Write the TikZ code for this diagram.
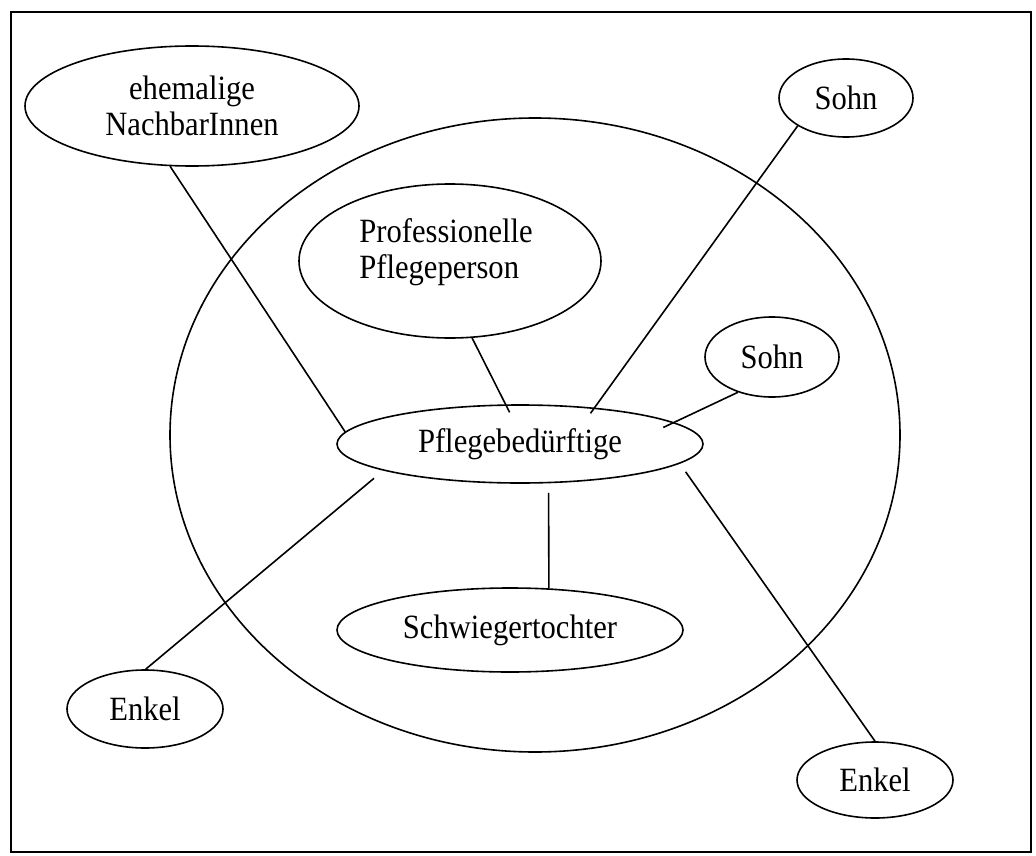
\documentclass[tikz,border=0pt]{standalone}
\usepackage{fontspec}
\setmainfont{Liberation Serif}[FakeStretch=0.9]
\usetikzlibrary{shapes.geometric}
\begin{document}
\begin{tikzpicture}[x=1pt,y=-1pt,
  every node/.style={font=\fontsize{34}{36}\selectfont},
  oval/.style={draw, ellipse, line width=1.6pt, inner sep=0pt, align=center},
  link/.style={line width=1.6pt}]
\useasboundingbox (0,0) rectangle (1036,856);
\draw[line width=1.8pt] (11,12) rectangle (1031,852);
\node[oval, minimum width=730pt, minimum height=634pt] (ring) at (535,435) {};
\node[oval, minimum width=334pt, minimum height=120pt] (nach) at (192,106) {ehemalige\\NachbarInnen};
\node[oval, minimum width=134pt, minimum height=78pt] (sohn1) at (846,98) {Sohn};
\node[oval, minimum width=302pt, minimum height=154pt] (prof) at (450,261) {};
\node[align=left, inner sep=0pt] (proftext) at (446,252) {Professionelle\\Pflegeperson};
\node[oval, minimum width=134pt, minimum height=80pt] (sohn2) at (772,357) {Sohn};
\node[oval, minimum width=366pt, minimum height=78pt] (pb) at (520,444) {Pflegebedürftige};
\node[oval, minimum width=346pt, minimum height=84pt] (schw) at (510,630) {Schwiegertochter};
\node[oval, minimum width=156pt, minimum height=78pt] (enkel1) at (145,709) {Enkel};
\node[oval, minimum width=156pt, minimum height=76pt] (enkel2) at (875,780) {Enkel};
\draw[link] (nach.-110) -- (pb.176);
\draw[link, shorten >=-7pt] (sohn1.210) -- (pb.26);
\draw[link, shorten >=-9pt] (prof.-74) -- (pb.110);
\draw[link, shorten >=-12pt] (sohn2.-134) -- (pb.8);
\draw[link, shorten <=12pt] (pb.-169) -- (enkel1.89);
\draw[link, shorten <=9.5pt] (pb.-54) -- (schw.47);
\draw[link, shorten <=10pt] (pb.-7) -- (enkel2.90);
\end{tikzpicture}
\end{document}
